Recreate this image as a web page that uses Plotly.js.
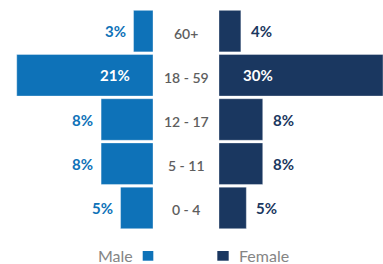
<!DOCTYPE html>
<html>
<head>
<meta charset="utf-8">
<script src="https://cdn.plot.ly/plotly-3.0.1.min.js"></script>
<style>html,body{margin:0;padding:0;background:#fff;}#chart{width:383px;height:264px;}</style>
</head>
<body>
<div id="chart"></div>
<script>
// Data (bottom to top)
var ageGroups = ['0 - 4', '5 - 11', '12 - 17', '18 - 59', '60+'];
var maleValues = [5, 8, 8, 21, 3];
var femaleValues = [5, 8, 8, 30, 4];
var seriesNames = ['Male', 'Female'];

var maleColor = '#0e72b8';
var femaleColor = '#1a3760';
var fontFam = 'Lato, "Open Sans", sans-serif';
var insideThreshold = 15;

var traces = [
  {
    type: 'bar', orientation: 'h', name: seriesNames[0],
    y: ageGroups, x: maleValues, xaxis: 'x', yaxis: 'y',
    marker: {color: maleColor, line: {color: 'rgba(255,255,255,0.35)', width: 1}},
    hoverinfo: 'none', showlegend: false
  },
  {
    type: 'bar', orientation: 'h', name: seriesNames[1],
    y: ageGroups, x: femaleValues, xaxis: 'x2', yaxis: 'y',
    marker: {color: femaleColor, line: {color: 'rgba(255,255,255,0.35)', width: 1}},
    hoverinfo: 'none', showlegend: false
  }
];

var annotations = [];
ageGroups.forEach(function (g, i) {
  annotations.push({
    xref: 'paper', yref: 'y', x: 0.4864, y: g, text: g, showarrow: false,
    xanchor: 'center', yanchor: 'middle', yshift: -2,
    font: {family: fontFam, size: 14, color: '#5e5e5e', weight: 600}
  });
  var mv = maleValues[i];
  var mIn = mv >= insideThreshold;
  annotations.push({
    xref: 'x', yref: 'y', x: mIn ? 0 : mv, y: g, text: '<b>' + mv + '%</b>', showarrow: false,
    xanchor: 'right', yanchor: 'middle', xshift: mIn ? -21 : -6,
    font: {family: fontFam, size: 15, color: mIn ? '#ffffff' : maleColor}
  });
  var fv = femaleValues[i];
  var fIn = fv >= insideThreshold;
  annotations.push({
    xref: 'x2', yref: 'y', x: fIn ? 0 : fv, y: g, text: '<b>' + fv + '%</b>', showarrow: false,
    xanchor: 'left', yanchor: 'middle', xshift: fIn ? 22 : 8,
    font: {family: fontFam, size: 15, color: fIn ? '#ffffff' : femaleColor}
  });
});

// Legend (text left of swatch for Male, right for Female)
annotations.push({
  xref: 'paper', yref: 'paper', x: 0.3525, y: -0.1154, text: seriesNames[0], showarrow: false,
  xanchor: 'right', yanchor: 'middle', font: {family: fontFam, size: 16, color: '#858585'}
});
annotations.push({
  xref: 'paper', yref: 'paper', x: 0.6188, y: -0.1154, text: seriesNames[1], showarrow: false,
  xanchor: 'left', yanchor: 'middle', font: {family: fontFam, size: 16, color: '#858585'}
});

var shapes = [
  {type: 'rect', xref: 'paper', yref: 'paper', x0: 0.3726, x1: 0.4003, y0: -0.139, y1: -0.095,
   fillcolor: maleColor, line: {width: 0}},
  {type: 'rect', xref: 'paper', yref: 'paper', x0: 0.5674, x1: 0.5971, y0: -0.139, y1: -0.095,
   fillcolor: femaleColor, line: {width: 0}}
];

var layout = {
  width: 383, height: 264,
  margin: {l: 0, r: 0, t: 9, b: 34},
  paper_bgcolor: '#ffffff', plot_bgcolor: '#ffffff',
  bargap: 0.06,
  showlegend: false,
  xaxis: {domain: [0.0183, 0.3995], range: [22.5, 0], visible: false, fixedrange: true},
  xaxis2: {domain: [0.5718, 1], range: [0, 30], visible: false, fixedrange: true, anchor: 'y'},
  yaxis: {type: 'category', categoryorder: 'array', categoryarray: ageGroups, visible: false, fixedrange: true},
  annotations: annotations,
  shapes: shapes
};

Plotly.newPlot('chart', traces, layout, {displayModeBar: false, staticPlot: true});
</script>
</body>
</html>
